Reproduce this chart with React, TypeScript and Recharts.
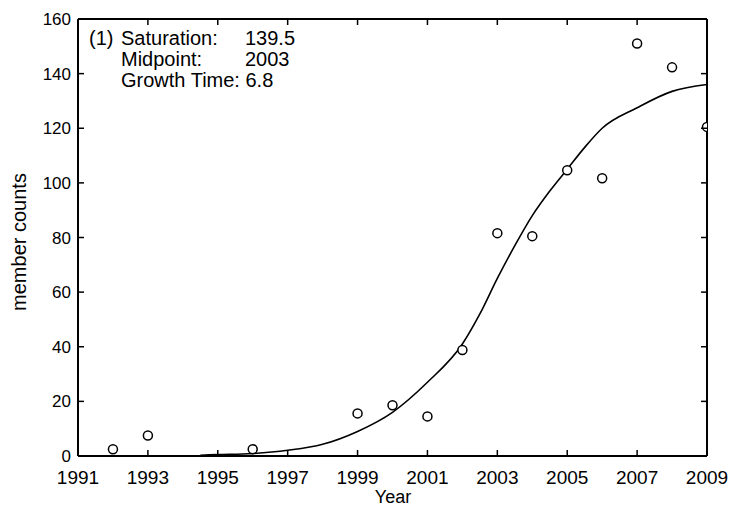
import React from "react";
import {
  ComposedChart,
  Line,
  Scatter,
  XAxis,
  YAxis,
  Customized,
} from "recharts";

// observed member counts per year
const years = [1992, 1993, 1996, 1999, 2000, 2001, 2002, 2003, 2004, 2005, 2006, 2007, 2008, 2009];
const counts = [2.5, 7.5, 2.5, 15.6, 18.6, 14.5, 38.8, 81.6, 80.5, 104.6, 101.7, 151, 142.3, 120.5];

// fitted curve
const fitYears = [1994.5, 1995, 1996, 1997, 1998, 1999, 2000, 2001, 2002, 2002.5, 2003, 2003.5, 2004, 2004.5, 2005, 2005.5, 2006, 2007, 2008, 2009];
const fitValues = [0.3, 0.5, 0.9, 2.1, 4.3, 9, 16, 27, 41, 52, 65, 77, 88, 97, 105, 113, 120, 127.5, 133.5, 136];

const xTicks = [1991, 1993, 1995, 1997, 1999, 2001, 2003, 2005, 2007, 2009];
const yTicks = [0, 20, 40, 60, 80, 100, 120, 140, 160];

const annotation = [
  ["(1)", "Saturation:", "139.5"],
  ["", "Midpoint:", "2003"],
  ["", "Growth Time: 6.8", ""],
];

const FONT = "'Liberation Sans', Arial, sans-serif";
const TICK_LEN = 6;

const pointData = years.map((x, i) => ({ x, y: counts[i] }));
const fitData = fitYears.map((x, i) => ({ x, y: fitValues[i] }));

type TickProps = { x?: number; y?: number; payload?: { value: number } };

const BottomTick = ({ x = 0, y = 0, payload }: TickProps) => (
  <g>
    <line x1={x} y1={y} x2={x} y2={y - TICK_LEN} stroke="#000" strokeWidth={1.5} />
    <text x={x} y={y + 28} textAnchor="middle" fontSize={19} fontFamily={FONT} fill="#000">
      {payload?.value}
    </text>
  </g>
);

const TopTick = ({ x = 0, y = 0 }: TickProps) => (
  <line x1={x} y1={y} x2={x} y2={y + TICK_LEN} stroke="#000" strokeWidth={1.5} />
);

const LeftTick = ({ x = 0, y = 0, payload }: TickProps) => (
  <g>
    <line x1={x} y1={y} x2={x + TICK_LEN} y2={y} stroke="#000" strokeWidth={1.5} />
    <text x={x - 7} y={y + 6} textAnchor="end" fontSize={17} fontFamily={FONT} fill="#000">
      {payload?.value}
    </text>
  </g>
);

const RightTick = ({ x = 0, y = 0 }: TickProps) => (
  <line x1={x} y1={y} x2={x - TICK_LEN} y2={y} stroke="#000" strokeWidth={1.5} />
);

const Circle = (props: { cx?: number; cy?: number }) => (
  <circle
    cx={props.cx}
    cy={props.cy}
    r={4.5}
    fill="#fff"
    stroke="#000"
    strokeWidth={1.5}
    clipPath="url(#plot-clip)"
  />
);

const Annotation = () => (
  <g fontFamily={FONT} fontSize={20} fill="#000">
    <defs>
      <clipPath id="plot-clip">
        <rect x={78} y={18} width={630} height={438} />
      </clipPath>
    </defs>
    {annotation.map((row, i) => (
      <g key={i}>
        <text x={89} y={45 + i * 21}>{row[0]}</text>
        <text x={121} y={45 + i * 21}>{row[1]}</text>
        <text x={245} y={45 + i * 21}>{row[2]}</text>
      </g>
    ))}
    <text x={393} y={503} textAnchor="middle" fontSize={18}>Year</text>
    <text
      x={0}
      y={0}
      transform="translate(26, 242) rotate(-90)"
      textAnchor="middle"
      fontSize={20}
    >
      member counts
    </text>
  </g>
);

export default function App() {
  return (
    <div style={{ position: "absolute", left: 0, top: 0, background: "#fff" }}>
      <ComposedChart
        width={729}
        height={506}
        margin={{ top: 18, right: 21, left: 0, bottom: 0 }}
      >
        <XAxis
          dataKey="x"
          type="number"
          domain={[1991, 2009]}
          ticks={xTicks}
          allowDataOverflow
          height={50}
          tickSize={0}
          tickMargin={0}
          tickLine={false}
          axisLine={{ stroke: "#000", strokeWidth: 2 }}
          tick={<BottomTick />}
          interval={0}
        />
        <XAxis
          xAxisId="top"
          orientation="top"
          dataKey="x"
          type="number"
          domain={[1991, 2009]}
          ticks={xTicks}
          allowDataOverflow
          height={1}
          tickSize={0}
          tickMargin={0}
          tickLine={false}
          axisLine={{ stroke: "#000", strokeWidth: 2 }}
          tick={<TopTick />}
          interval={0}
        />
        <YAxis
          type="number"
          domain={[0, 160]}
          ticks={yTicks}
          allowDataOverflow
          width={78}
          tickSize={0}
          tickMargin={0}
          tickLine={false}
          axisLine={{ stroke: "#000", strokeWidth: 2 }}
          tick={<LeftTick />}
          interval={0}
        />
        <YAxis
          yAxisId="right"
          orientation="right"
          type="number"
          domain={[0, 160]}
          ticks={yTicks}
          allowDataOverflow
          width={1}
          tickSize={0}
          tickMargin={0}
          tickLine={false}
          axisLine={{ stroke: "#000", strokeWidth: 2 }}
          tick={<RightTick />}
          interval={0}
        />
        <Line
          xAxisId="top"
          yAxisId="right"
          data={fitData}
          dataKey="y"
          type="monotone"
          stroke="#000"
          strokeWidth={1.6}
          dot={false}
          activeDot={false}
          isAnimationActive={false}
        />
        <Scatter
          data={pointData}
          dataKey="y"
          shape={<Circle />}
          isAnimationActive={false}
        />
        <Customized component={<Annotation />} />
      </ComposedChart>
    </div>
  );
}
